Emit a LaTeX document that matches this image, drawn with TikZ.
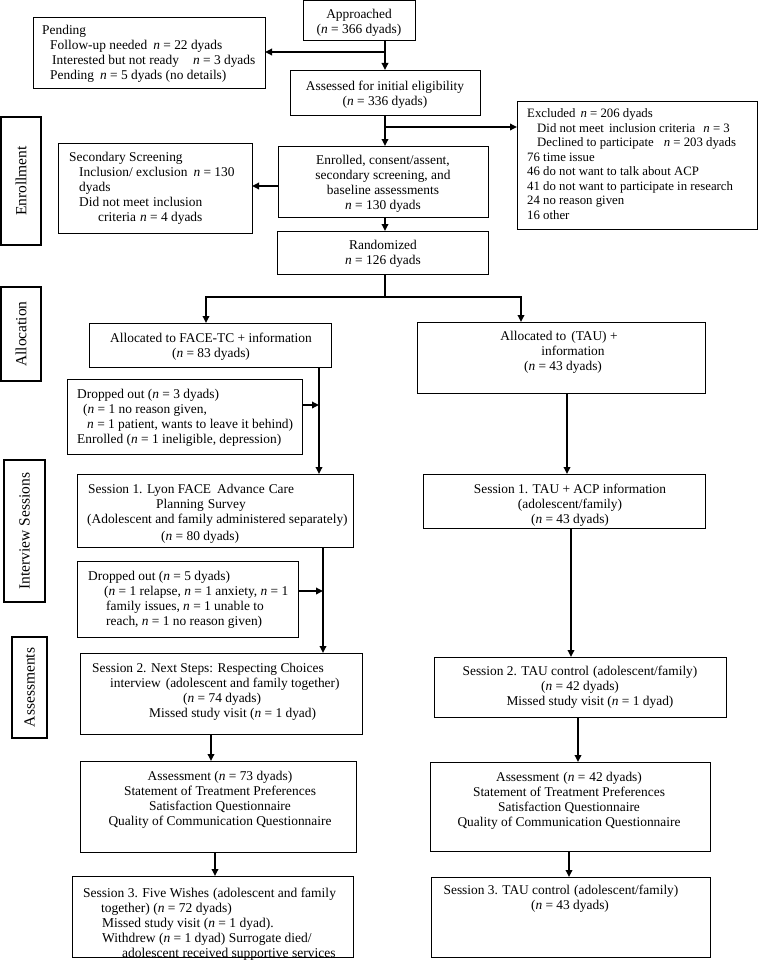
\documentclass[tikz,border=0pt]{standalone}
\usepackage{fontspec}
\setmainfont{Liberation Serif}
\usetikzlibrary{arrows.meta}
\newcommand\nn{\textit{n}}
\tikzset{
 bx/.style={draw, line width=0.8pt, inner sep=0pt, outer sep=0pt},
 lab/.style={draw, line width=1.1pt, inner sep=0pt, outer sep=0pt},
 tx/.style={inner sep=0pt, font=\fontsize{13.4}{15}\selectfont},
 txl/.style={tx, align=left, anchor=north west},
 txc/.style={tx, align=center, anchor=north},
 labtx/.style={inner sep=0pt, rotate=90, font=\fontsize{15.5}{17}\selectfont},
 arr/.style={line width=1.7pt, -{Triangle[length=7pt,width=6.5pt]}},
 ln/.style={line width=1.7pt},
}
\newcommand\mkbox[6]{\node[#1, minimum width={#4-#2}, minimum height={#5-#3}] (#6) at ({(#2+#4)/2},{(#3+#5)/2}) {};}
\begin{document}
\begin{tikzpicture}[x=1pt,y=-1pt]
\useasboundingbox (0,0) rectangle (758,966);
% ---- boxes
\mkbox{bx}{303}{0}{415}{40}{appr}
\mkbox{bx}{33}{17}{265}{88}{pend}
\mkbox{bx}{290}{70}{480}{115}{asse}
\mkbox{bx}{517}{101}{757}{229}{excl}
\mkbox{lab}{1}{117}{41}{245}{lenr}
\mkbox{bx}{58}{143}{252}{233}{seco}
\mkbox{bx}{278}{146}{488}{217}{enro}
\mkbox{bx}{277}{231}{488}{274}{rand}
\mkbox{lab}{1}{287}{41}{381}{lall}
\mkbox{bx}{89}{323}{331}{367}{face}
\mkbox{bx}{417}{322}{705}{393}{taua}
\mkbox{bx}{67}{379}{302}{454}{dro1}
\mkbox{lab}{4}{460}{45}{602}{lint}
\mkbox{bx}{77}{474}{353}{547}{s1f}
\mkbox{bx}{423}{474}{705}{528}{s1t}
\mkbox{bx}{77}{561}{298}{637}{dro2}
\mkbox{lab}{12}{637}{47}{738}{lass}
\mkbox{bx}{80}{653}{362}{734}{s2f}
\mkbox{bx}{434}{657}{726}{717}{s2t}
\mkbox{bx}{80}{761}{356}{852}{asf}
\mkbox{bx}{430}{762}{710}{851}{ast}
\mkbox{bx}{72}{876}{353}{957}{s3f}
\mkbox{bx}{431}{877}{710}{957}{s3t}
% ---- texts
\node[txc] (t-appr) at (359,9.5) {Approached\\(\nn{} = 366 dyads)};
\node[txl] (t-pend) at (42,25.5) {Pending\\
\hspace*{8pt}Follow-up needed\hspace{6pt}\nn{} = 22 dyads\\
\hspace*{10pt}Interested but not ready\hspace{14pt}\nn{} = 3 dyads\\
\hspace*{8pt}Pending\hspace{6pt}\nn{} = 5 dyads (no details)};
\node[txc] (t-asse) at (385,80.5) {Assessed for initial eligibility\\(\nn{} = 336 dyads)};
\node[txl, font=\fontsize{12.8}{14.5}\selectfont] (t-excl) at (527,108.5) {Excluded\hspace{5pt}\nn{} = 206 dyads\\
\hspace*{10pt}Did not meet\hspace{5pt}inclusion criteria\hspace{8pt}\nn{} = 3\\
\hspace*{10pt}Declined to participate\hspace{10pt}\nn{} = 203 dyads\\
76 time issue\\
46 do not want to talk about ACP\\
41 do not want to participate in research\\
24 no reason given\\
16 other};
\node[labtx] (t-lenr) at (lenr.center) {Enrollment};
\node[txl] (t-seco) at (69,152.5) {Secondary Screening\\
\hspace*{10pt}Inclusion/ exclusion\hspace{6pt}\nn{} = 130\\
\hspace*{10pt}dyads\\
\hspace*{10pt}Did not meet\hspace{4pt}inclusion\\
\hspace*{29pt}criteria\hspace{4pt}\nn{} = 4 dyads};
\node[txc] (t-enro) at (383,155.5) {Enrolled, consent/assent,\\secondary screening, and\\baseline assessments\\\nn{} = 130 dyads};
\node[txc] (t-rand) at (383,239.5) {Randomized\\\nn{} = 126 dyads};
\node[labtx] (t-lall) at (lall.center) {Allocation};
\node[txc] (t-face) at (211,332.5) {Allocated to FACE-TC + information\\(\nn{} = 83 dyads)};
\node[txc] (t-taua) at (563,330.5) {Allocated to\hspace{5pt}(TAU) +\hspace*{8pt}\\\hspace*{20pt}information\\(\nn{} = 43 dyads)};
\node[txl] (t-dro1) at (77,388.5) {Dropped out (\nn{} = 3 dyads)\\
\hspace*{6pt}(\nn{} = 1 no reason given,\\
\hspace*{10pt}\nn{} = 1 patient, wants to leave it behind)\\
Enrolled (\nn{} = 1 ineligible, depression)};
\node[labtx] (t-lint) at (lint.center) {Interview Sessions};
\node[txl] (t-s1f) at (88,483.5) {Session 1. Lyon FACE\hspace{6pt}Advance\hspace{4pt}Care\\
\hspace*{68pt}Planning\hspace{4pt}Survey\\
\hspace*{-1pt}(Adolescent and family administered separately)\\[2pt]
\hspace*{73pt}(\nn{} = 80 dyads)};
\node[txc] (t-s1t) at (570,483.5) {Session 1. TAU + ACP information\\(adolescent/family)\\(\nn{} = 43 dyads)};
\node[txl] (t-dro2) at (88,570.5) {Dropped out (\nn{} = 5 dyads)\\
\hspace*{16pt}(\nn{} = 1 relapse, \nn{} = 1 anxiety, \nn{} = 1\\
\hspace*{18pt}family issues, \nn{} = 1 unable to\\
\hspace*{18pt}reach, \nn{} = 1 no reason given)};
\node[labtx] (t-lass) at (lass.center) {Assessments};
\node[txl] (t-s2f) at (92,662.5) {Session 2. Next Steps: Respecting Choices\\
\hspace*{18pt}interview\hspace{5pt}(adolescent and family together)\\
\hspace*{91pt}(\nn{} = 74 dyads)\\
\hspace*{57pt}Missed study visit (\nn{} = 1 dyad)};
\node[txc] (t-s2t) at (580,665.5) {Session 2. TAU control\hspace{4pt}(adolescent/family)\\(\nn{} = 42 dyads)\\\hspace*{20pt}Missed study visit (\nn{} = 1 dyad)};
\node[txc] (t-ast) at (569,771.5) {Assessment\hspace{4pt}(\nn{} =\hspace{4pt}42 dyads)\\Statement of Treatment Preferences\\Satisfaction Questionnaire\\Quality of Communication Questionnaire};
\node[txc] (t-asf) at (220,770.5) {Assessment (\nn{} = 73 dyads)\\Statement of Treatment Preferences\\Satisfaction Questionnaire\\Quality of Communication Questionnaire};
\node[txl, font=\fontsize{13.5}{15}\selectfont] (t-s3f) at (83,887.5) {Session 3. Five Wishes\hspace{4pt}(adolescent and family\\
\hspace*{18pt}together) (\nn{} = 72 dyads)\\
\hspace*{19pt}Missed study visit (\nn{} = 1 dyad).\\
\hspace*{19pt}Withdrew (\nn{} = 1 dyad) Surrogate died/\\
\hspace*{39pt}adolescent received supportive services};
\node[txc] (t-s3t) at (561,884.5) {Session 3. TAU control\hspace{4pt}(adolescent/family)\\\hspace*{18pt}(\nn{} = 43 dyads)};
% ---- connectors
\coordinate (jP) at (385,52);
\coordinate (jE) at (385,127);
\coordinate (jS) at (278,186);
\coordinate (jR) at (385,297);
\coordinate (jL) at (206,297);
\coordinate (jT) at (521,297);
\draw[arr] (appr.south -| jP) -- (asse.north -| jP);
\draw[arr] (jP) -- (pend.east |- jP);
\draw[arr] (asse.south -| jE) -- (enro.north -| jE);
\draw[arr] (jE) -- (excl.west |- jE);
\draw[arr] (enro.west |- jS) -- (seco.east |- jS);
\draw[arr] (enro.south -| jE) -- (rand.north -| jE);
\draw[ln] (rand.south -| jR) -- (jR);
\draw[arr] (jR) -| (face.north -| jL);
\draw[arr] (jR) -| (taua.north -| jT);
\coordinate (c1) at (319,405);
\coordinate (c2) at (323,591);
\coordinate (c3) at (211,0);
\coordinate (c4) at (215,0);
\draw[arr] (face.south -| c1) -- (s1f.north -| c1);
\draw[arr] (dro1.east |- c1) -- (c1);
\draw[arr] (s1f.south -| c2) -- (s2f.north -| c2);
\draw[arr] (dro2.east |- c2) -- (c2);
\draw[arr] (s2f.south -| c3) -- (asf.north -| c3);
\draw[arr] (asf.south -| c4) -- (s3f.north -| c4);
\coordinate (r1) at (567,0);
\coordinate (r2) at (571,0);
\coordinate (r3) at (578,0);
\coordinate (r4) at (569,0);
\draw[arr] (taua.south -| r1) -- (s1t.north -| r1);
\draw[arr] (s1t.south -| r2) -- (s2t.north -| r2);
\draw[arr] (s2t.south -| r3) -- (ast.north -| r3);
\draw[arr] (ast.south -| r4) -- (s3t.north -| r4);
\end{tikzpicture}
\end{document}
